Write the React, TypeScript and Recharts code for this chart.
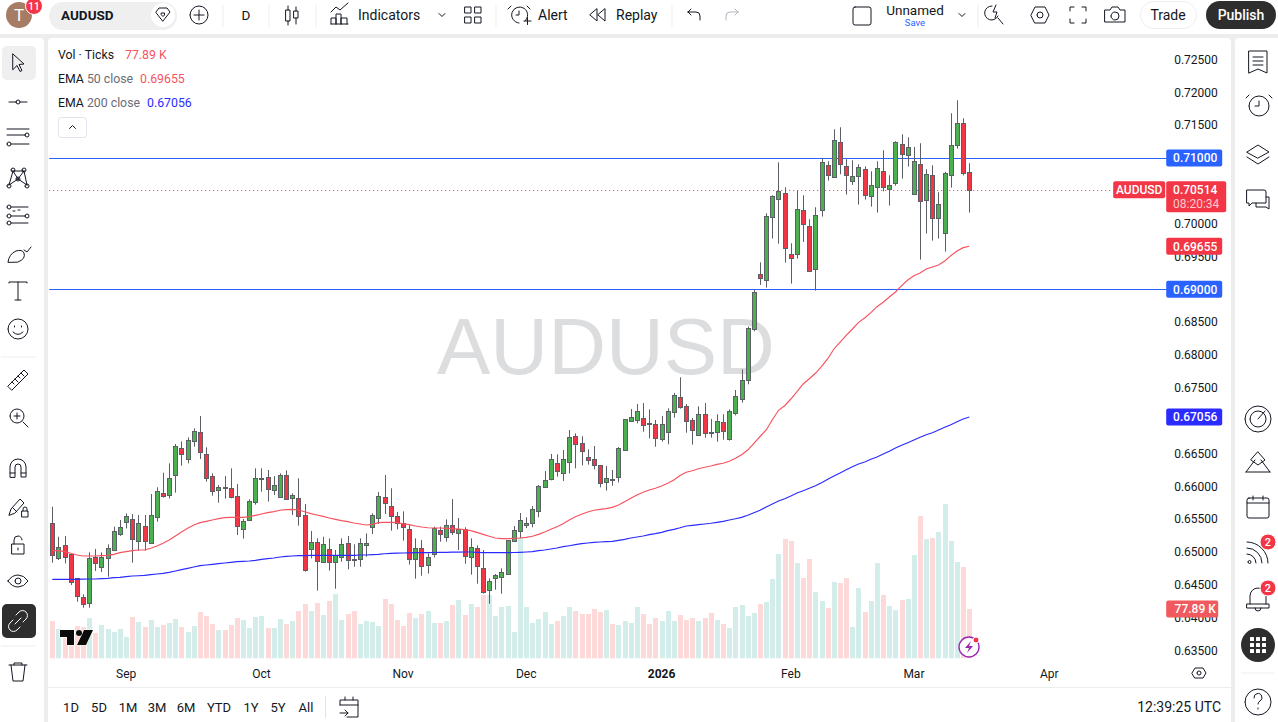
import { Bar, ComposedChart, Line, ReferenceLine, XAxis, YAxis } from 'recharts'

const opens = [
  0.65436, 0.64902, 0.65100, 0.64963, 0.64598, 0.64308, 0.64212, 0.64918, 0.64781, 0.64902,
  0.65024, 0.65263, 0.65451, 0.65496, 0.65161, 0.65390, 0.65131, 0.65527, 0.65892, 0.65862,
  0.66167, 0.66578, 0.66410, 0.66684, 0.66822, 0.66486, 0.66151, 0.65938, 0.65984, 0.65969,
  0.65847, 0.65344, 0.65481, 0.65755, 0.66116, 0.66136, 0.65938, 0.65832, 0.66167, 0.65816,
  0.65816, 0.65557, 0.65040, 0.65146, 0.64842, 0.65040, 0.64842, 0.64918, 0.65131, 0.64887,
  0.64887, 0.65100, 0.65375, 0.65512, 0.65832, 0.65694, 0.65542, 0.65436, 0.65344, 0.64887,
  0.65055, 0.64796, 0.64963, 0.65329, 0.65222, 0.65405, 0.65283, 0.65344, 0.64918, 0.65055,
  0.64750, 0.64415, 0.64598, 0.64613, 0.64659, 0.65161, 0.65309, 0.65405, 0.65430, 0.65618,
  0.65984, 0.66106, 0.66349, 0.66197, 0.66365, 0.66761, 0.66654, 0.66441, 0.66410, 0.66319,
  0.66060, 0.66106, 0.66136, 0.66547, 0.66989, 0.67004, 0.67035, 0.66959, 0.66943, 0.66715,
  0.66822, 0.67126, 0.67355, 0.67217, 0.67004, 0.66776, 0.67096, 0.66821, 0.66821, 0.66974,
  0.66715, 0.67111, 0.67324, 0.67613, 0.68390, 0.69228, 0.69137, 0.70097, 0.70371, 0.70462,
  0.69533, 0.69533, 0.70203, 0.69960, 0.69305, 0.70203, 0.70889, 0.70706, 0.71239, 0.70873,
  0.70640, 0.70721, 0.70828, 0.70416, 0.70554, 0.70797, 0.70523, 0.70614, 0.71208, 0.71041,
  0.70447, 0.70904, 0.70356, 0.70736, 0.70081, 0.69853, 0.70736, 0.71193, 0.71528, 0.70782,
]
const highs = [
  0.65689, 0.65232, 0.65243, 0.64968, 0.64598, 0.64354, 0.64994, 0.65045, 0.64994, 0.65116,
  0.65385, 0.65486, 0.65588, 0.65578, 0.65562, 0.65562, 0.65882, 0.65984, 0.66207, 0.66349,
  0.66644, 0.66684, 0.66745, 0.66882, 0.67070, 0.66593, 0.66197, 0.66019, 0.66156, 0.66273,
  0.66035, 0.65502, 0.65801, 0.66273, 0.66273, 0.66248, 0.66156, 0.66197, 0.66243, 0.65892,
  0.66121, 0.65730, 0.65319, 0.65207, 0.65232, 0.65207, 0.65029, 0.65207, 0.65243, 0.65116,
  0.65207, 0.65283, 0.65588, 0.65913, 0.66172, 0.65969, 0.65608, 0.65618, 0.65410, 0.65207,
  0.65182, 0.64979, 0.65385, 0.65385, 0.65496, 0.65806, 0.65517, 0.65375, 0.65207, 0.65100,
  0.65029, 0.64598, 0.64664, 0.64750, 0.65182, 0.65395, 0.65593, 0.65527, 0.65699, 0.66019,
  0.66233, 0.66492, 0.66486, 0.66552, 0.66857, 0.66806, 0.66761, 0.66563, 0.66613, 0.66319,
  0.66309, 0.66248, 0.66598, 0.67020, 0.67177, 0.67253, 0.67268, 0.67172, 0.67009, 0.67070,
  0.67187, 0.67421, 0.67659, 0.67253, 0.67040, 0.67217, 0.67268, 0.67025, 0.67096, 0.67096,
  0.67172, 0.67466, 0.67781, 0.68431, 0.68990, 0.69411, 0.70158, 0.70432, 0.70934, 0.70554,
  0.69701, 0.70508, 0.70432, 0.70066, 0.70249, 0.70995, 0.70950, 0.71437, 0.71467, 0.70980,
  0.70965, 0.70904, 0.70873, 0.70797, 0.70950, 0.71117, 0.70736, 0.71254, 0.71361, 0.71315,
  0.71168, 0.71224, 0.70828, 0.70889, 0.70477, 0.70787, 0.71681, 0.71879, 0.71604, 0.70919,
]
const lows = [
  0.64836, 0.64877, 0.64826, 0.64496, 0.64242, 0.64151, 0.64151, 0.64710, 0.64694, 0.64623,
  0.65019, 0.65243, 0.65359, 0.64836, 0.65019, 0.65019, 0.65126, 0.65461, 0.65826, 0.65816,
  0.65903, 0.66314, 0.66349, 0.66603, 0.66415, 0.66070, 0.65857, 0.65750, 0.65811, 0.65816,
  0.65258, 0.65202, 0.65476, 0.65720, 0.65918, 0.65766, 0.65867, 0.65832, 0.65796, 0.65562,
  0.65400, 0.64699, 0.64902, 0.64410, 0.64836, 0.64715, 0.64440, 0.64852, 0.64735, 0.64775,
  0.64775, 0.64928, 0.65273, 0.65425, 0.65578, 0.65324, 0.65344, 0.65172, 0.64806, 0.64593,
  0.64638, 0.64669, 0.64918, 0.65156, 0.65156, 0.65258, 0.65029, 0.64821, 0.64654, 0.64517,
  0.64364, 0.64212, 0.64425, 0.64364, 0.64659, 0.65156, 0.65212, 0.65364, 0.65375, 0.65527,
  0.65979, 0.66090, 0.66146, 0.66080, 0.66197, 0.66273, 0.66319, 0.66329, 0.66258, 0.65984,
  0.65933, 0.66009, 0.66060, 0.66542, 0.66984, 0.66959, 0.66832, 0.66730, 0.66603, 0.66679,
  0.66639, 0.67045, 0.67182, 0.66816, 0.66634, 0.66776, 0.66740, 0.66740, 0.66679, 0.66710,
  0.66695, 0.67080, 0.67273, 0.67553, 0.68360, 0.69066, 0.69025, 0.69772, 0.69695, 0.69406,
  0.69086, 0.69467, 0.69721, 0.69274, 0.68980, 0.70107, 0.70655, 0.70706, 0.70752, 0.70442,
  0.70589, 0.70290, 0.70366, 0.70259, 0.70168, 0.70493, 0.70274, 0.70579, 0.70686, 0.70868,
  0.70447, 0.69452, 0.69848, 0.69741, 0.69772, 0.69574, 0.70548, 0.71142, 0.70736, 0.70168,
]
const closes = [
  0.64943, 0.65070, 0.64918, 0.64537, 0.64324, 0.64202, 0.64902, 0.64826, 0.64928, 0.65055,
  0.65314, 0.65375, 0.65542, 0.65187, 0.65436, 0.65161, 0.65557, 0.65923, 0.65847, 0.66121,
  0.66608, 0.66486, 0.66700, 0.66837, 0.66517, 0.66121, 0.65923, 0.65984, 0.65979, 0.65832,
  0.65390, 0.65466, 0.65771, 0.66121, 0.66121, 0.65953, 0.66014, 0.66167, 0.65801, 0.65862,
  0.65542, 0.64720, 0.65146, 0.64857, 0.65116, 0.64842, 0.64948, 0.65116, 0.64872, 0.64882,
  0.65131, 0.65131, 0.65557, 0.65847, 0.65740, 0.65542, 0.65436, 0.65375, 0.64887, 0.65055,
  0.64781, 0.64918, 0.65359, 0.65268, 0.65405, 0.65298, 0.65344, 0.64933, 0.65070, 0.64781,
  0.64385, 0.64552, 0.64644, 0.64689, 0.65177, 0.65329, 0.65481, 0.65436, 0.65649, 0.65999,
  0.66090, 0.66410, 0.66228, 0.66410, 0.66745, 0.66639, 0.66532, 0.66395, 0.66319, 0.66045,
  0.66121, 0.66101, 0.66578, 0.67020, 0.67050, 0.67141, 0.66923, 0.66943, 0.66730, 0.66943,
  0.67141, 0.67385, 0.67202, 0.66984, 0.66847, 0.67096, 0.66806, 0.66816, 0.66989, 0.66837,
  0.67141, 0.67370, 0.67613, 0.68405, 0.68954, 0.69162, 0.70112, 0.70416, 0.70493, 0.69624,
  0.69472, 0.70218, 0.69990, 0.69274, 0.70127, 0.70934, 0.70736, 0.71269, 0.70904, 0.70736,
  0.70721, 0.70858, 0.70432, 0.70584, 0.70843, 0.70554, 0.70584, 0.71239, 0.71056, 0.71163,
  0.70950, 0.70340, 0.70752, 0.70081, 0.70295, 0.70767, 0.71193, 0.71528, 0.70767, 0.70514,
]
const volumes = [
  59.0, 46.4, 32.2, 44.8, 51.1, 49.5, 63.7, 40.1, 52.7, 46.4,
  41.7, 46.4, 33.8, 65.3, 57.4, 49.5, 60.6, 49.5, 52.7, 55.8,
  62.1, 49.5, 41.7, 51.1, 73.1, 66.9, 54.3, 44.8, 44.8, 52.7,
  63.7, 60.6, 48.0, 65.3, 66.9, 48.0, 48.0, 62.1, 54.3, 59.0,
  74.7, 85.7, 74.7, 87.3, 68.4, 90.4, 101.5, 60.6, 70.0, 74.7,
  54.3, 59.0, 57.4, 51.1, 93.6, 85.7, 60.6, 51.1, 71.6, 63.7,
  70.0, 74.7, 55.8, 55.8, 59.0, 84.2, 92.0, 68.4, 85.7, 81.0,
  99.9, 99.9, 66.9, 81.0, 82.6, 41.7, 191.1, 81.0, 55.8, 62.1,
  73.1, 54.3, 59.0, 66.9, 81.0, 74.7, 70.0, 70.0, 77.9, 73.1,
  76.3, 54.3, 52.7, 59.0, 55.8, 81.0, 70.0, 54.3, 63.7, 59.0,
  74.7, 59.0, 68.4, 60.6, 63.7, 59.0, 63.7, 71.6, 60.6, 54.3,
  48.0, 81.0, 84.2, 66.9, 71.6, 85.7, 88.9, 125.1, 164.4, 188.0,
  184.8, 150.2, 126.6, 156.5, 104.6, 90.4, 79.4, 120.3, 118.8, 126.6,
  49.5, 110.9, 73.1, 90.4, 150.2, 99.9, 82.6, 76.3, 92.0, 93.6,
  162.8, 224.2, 188.0, 189.5, 199.0, 243.0, 184.8, 151.8, 143.9, 77.89,
]
const ema50 = [
  0.65019, 0.65019, 0.65004, 0.64979, 0.64953, 0.64938, 0.64938, 0.64938, 0.64943, 0.64948,
  0.64963, 0.64989, 0.65004, 0.65019, 0.65029, 0.65029, 0.65055, 0.65090, 0.65131, 0.65182,
  0.65243, 0.65304, 0.65359, 0.65410, 0.65446, 0.65466, 0.65486, 0.65507, 0.65522, 0.65527,
  0.65527, 0.65527, 0.65537, 0.65557, 0.65578, 0.65598, 0.65613, 0.65634, 0.65644, 0.65649,
  0.65639, 0.65613, 0.65583, 0.65562, 0.65542, 0.65517, 0.65496, 0.65476, 0.65461, 0.65441,
  0.65425, 0.65410, 0.65420, 0.65446, 0.65451, 0.65451, 0.65446, 0.65430, 0.65415, 0.65395,
  0.65380, 0.65369, 0.65364, 0.65364, 0.65359, 0.65354, 0.65349, 0.65339, 0.65324, 0.65298,
  0.65268, 0.65238, 0.65212, 0.65202, 0.65202, 0.65207, 0.65212, 0.65222, 0.65238, 0.65268,
  0.65304, 0.65344, 0.65385, 0.65430, 0.65486, 0.65537, 0.65573, 0.65608, 0.65634, 0.65649,
  0.65659, 0.65679, 0.65715, 0.65766, 0.65816, 0.65867, 0.65908, 0.65943, 0.65969, 0.66004,
  0.66045, 0.66096, 0.66165, 0.66213, 0.66237, 0.66267, 0.66289, 0.66309, 0.66334, 0.66350,
  0.66380, 0.66426, 0.66481, 0.66552, 0.66654, 0.66758, 0.66857, 0.67014, 0.67157, 0.67227,
  0.67329, 0.67440, 0.67558, 0.67638, 0.67721, 0.67827, 0.67943, 0.68091, 0.68197, 0.68299,
  0.68395, 0.68497, 0.68563, 0.68644, 0.68735, 0.68802, 0.68883, 0.68959, 0.69055, 0.69142,
  0.69207, 0.69248, 0.69309, 0.69340, 0.69370, 0.69431, 0.69512, 0.69583, 0.69634, 0.69655,
]
const ema200 = [
  0.64583, 0.64583, 0.64583, 0.64583, 0.64583, 0.64585, 0.64588, 0.64588, 0.64593, 0.64598,
  0.64608, 0.64613, 0.64623, 0.64633, 0.64638, 0.64644, 0.64654, 0.64664, 0.64674, 0.64689,
  0.64710, 0.64730, 0.64750, 0.64770, 0.64791, 0.64801, 0.64811, 0.64821, 0.64831, 0.64842,
  0.64852, 0.64857, 0.64862, 0.64872, 0.64887, 0.64897, 0.64907, 0.64923, 0.64933, 0.64938,
  0.64943, 0.64943, 0.64948, 0.64948, 0.64948, 0.64948, 0.64948, 0.64948, 0.64948, 0.64948,
  0.64953, 0.64953, 0.64958, 0.64963, 0.64973, 0.64979, 0.64981, 0.64984, 0.64986, 0.64989,
  0.64989, 0.64989, 0.64991, 0.64994, 0.64994, 0.64996, 0.64996, 0.64999, 0.64999, 0.64994,
  0.64989, 0.64989, 0.64989, 0.64989, 0.64989, 0.64991, 0.64994, 0.64999, 0.65004, 0.65019,
  0.65029, 0.65045, 0.65060, 0.65080, 0.65095, 0.65111, 0.65126, 0.65136, 0.65146, 0.65151,
  0.65156, 0.65161, 0.65177, 0.65192, 0.65212, 0.65227, 0.65243, 0.65263, 0.65278, 0.65298,
  0.65324, 0.65344, 0.65368, 0.65395, 0.65405, 0.65415, 0.65425, 0.65436, 0.65451, 0.65466,
  0.65486, 0.65506, 0.65527, 0.65558, 0.65597, 0.65634, 0.65684, 0.65730, 0.65775, 0.65811,
  0.65852, 0.65897, 0.65932, 0.65969, 0.66008, 0.66054, 0.66106, 0.66156, 0.66202, 0.66252,
  0.66298, 0.66339, 0.66370, 0.66411, 0.66446, 0.66491, 0.66533, 0.66583, 0.66624, 0.66664,
  0.66705, 0.66746, 0.66785, 0.66816, 0.66857, 0.66898, 0.66938, 0.66983, 0.67024, 0.67056,
]
// 0.710, 0.705, 0.690 and 0.670 sit behind price tags, so they are not listed
const priceTicks = [
  0.725, 0.72, 0.715, 0.7, 0.695, 0.685, 0.68, 0.675, 0.665, 0.66,
  0.655, 0.65, 0.645, 0.64, 0.635,
]
const monthTicks = [12, 34, 57, 77, 99, 120, 140, 162]
const monthLabels = ['Sep', 'Oct', 'Nov', 'Dec', '2026', 'Feb', 'Mar', 'Apr']
const rangeButtons = ['1D', '5D', '1M', '3M', '6M', 'YTD', '1Y', '5Y', 'All']
const rangeButtonX = [71, 99, 128, 157, 186, 219, 251, 278, 306]

const BLANK_SLOTS = 31
const UP = '#4CAF50'
const DOWN = '#F23645'
const LINE_BLUE = '#2962FF'
const EMA50_COLOR = '#F7525F'
const EMA200_COLOR = '#2B2BFF'
const INK = '#131722'
const FONT = 'Roboto, sans-serif'

const rows: any[] = opens.map((open, i) => ({
  idx: i,
  open,
  high: highs[i],
  low: lows[i],
  close: closes[i],
  vol: volumes[i],
  ema50: ema50[i],
  ema200: ema200[i],
}))
for (let i = 0; i < BLANK_SLOTS; i++) rows.push({ idx: opens.length + i })

function Candle(props: any) {
  const { x, y, width, height, payload } = props
  if (payload.open == null || !height) return null
  const perUnit = height / (payload.high - payload.low)
  const top = y + (payload.high - Math.max(payload.open, payload.close)) * perUnit
  const bottom = y + (payload.high - Math.min(payload.open, payload.close)) * perUnit
  const cx = Math.floor(x + width / 2) + 0.5
  const bodyTop = Math.round(top) + 0.5
  const bodyH = Math.max(Math.round(bottom - top), 1)
  return (
    <g>
      <line x1={cx} x2={cx} y1={y} y2={y + height} stroke="#5D5F66" />
      <rect
        x={cx - 2}
        y={bodyTop}
        width={4}
        height={bodyH}
        fill={payload.close >= payload.open ? UP : DOWN}
        stroke="#5D5F66"
      />
    </g>
  )
}

function VolumeBar(props: any) {
  const { x, y, width, height, payload } = props
  if (payload.vol == null) return null
  const color = payload.close >= payload.open ? '#D3EDEA' : '#FDD9D9'
  return <rect x={Math.round(x)} y={y} width={width} height={height} fill={color} />
}

// horizontal levels snapped to a pixel row and run up to the price scale.
// on a right hand axis recharts hands the end points over right to left
const levelLine = (color: string, extend: boolean, dash?: string) => (props: any) => {
  const { x1, x2, y1 } = props
  const y = Math.round(y1) + 0.5
  return (
    <line
      x1={Math.min(x1, x2)}
      x2={Math.max(x1, x2) + (extend ? 3 : 0)}
      y1={y}
      y2={y}
      stroke={color}
      strokeWidth={1}
      strokeDasharray={dash}
    />
  )
}

function PriceTag(props: any) {
  const { viewBox, text, fill, w = 56 } = props
  const left = viewBox.x + viewBox.width + 3
  const y = viewBox.y
  return (
    <g>
      <rect x={left} y={y - 8.5} width={w} height={17} rx={2} fill={fill} />
      <text x={left + 29} y={y + 4.5} textAnchor="middle" fill="#fff" fontSize={12} fontWeight={500} fontFamily={FONT}>
        {text}
      </text>
    </g>
  )
}

function LastPriceTag(props: any) {
  const { viewBox } = props
  const left = viewBox.x + viewBox.width + 3
  const y = viewBox.y
  return (
    <g fontFamily={FONT} fontSize={12} fontWeight={500}>
      <rect x={left - 53} y={y - 8.5} width={52} height={17} rx={2} fill={DOWN} />
      <text x={left - 27} y={y + 4.5} textAnchor="middle" fill="#fff">AUDUSD</text>
      <rect x={left} y={y - 8.5} width={60} height={31} rx={2} fill={DOWN} />
      <text x={left + 29} y={y + 4.5} textAnchor="middle" fill="#fff">0.70514</text>
      <text x={left + 30} y={y + 18} textAnchor="middle" fill="#FBC9CE" fontWeight={400}>08:20:34</text>
    </g>
  )
}

function MonthTick(props: any) {
  const { x, y, index } = props
  const label = monthLabels[index]
  return (
    <text
      x={x}
      y={y}
      textAnchor="middle"
      fontSize={12}
      fontFamily={FONT}
      fontWeight={label === '2026' ? 700 : 400}
      fill={INK}
    >
      {label}
    </text>
  )
}

function Chart() {
  return (
    <ComposedChart
      width={1278}
      height={722}
      data={rows}
      margin={{ left: 49.2, right: 54.8, top: 38, bottom: 33.5 }}
      style={{ position: 'absolute', left: 0, top: 0 }}
    >
      <XAxis
        xAxisId="main"
        dataKey="idx"
        type="category"
        ticks={monthTicks}
        interval={0}
        height={30}
        tickLine={false}
        axisLine={false}
        tickMargin={13}
        tick={<MonthTick />}
      />
      <XAxis xAxisId="vol" dataKey="idx" type="category" hide />
      <YAxis
        yAxisId="price"
        orientation="right"
        type="number"
        domain={[0.63377, 0.72827]}
        ticks={priceTicks}
        interval={0}
        width={60}
        tickSize={0}
        tickMargin={11}
        axisLine={false}
        tickFormatter={(v: number) => v.toFixed(5)}
        tick={{ fontSize: 12, fill: INK, fontFamily: FONT }}
        allowDataOverflow
        zIndex={100}
      />
      <YAxis yAxisId="volume" hide type="number" domain={[0, 976]} allowDataOverflow />
      <Bar
        xAxisId="vol"
        yAxisId="volume"
        dataKey="vol"
        barSize={5}
        shape={VolumeBar}
        isAnimationActive={false}
      />
      {/* the levels stay under the candles, their tags over the price scale */}
      <ReferenceLine xAxisId="main" yAxisId="price" y={0.71} shape={levelLine(LINE_BLUE, true)} zIndex={250} />
      <ReferenceLine xAxisId="main" yAxisId="price" y={0.69} shape={levelLine(LINE_BLUE, true)} zIndex={250} />
      <ReferenceLine xAxisId="main" yAxisId="price" y={0.70514} shape={levelLine(DOWN, false, '1 3')} zIndex={250} />
      <ReferenceLine
        xAxisId="main"
        yAxisId="price"
        y={0.71}
        stroke="none"
        label={<PriceTag text="0.71000" fill={LINE_BLUE} />}
        zIndex={2000}
      />
      <ReferenceLine
        xAxisId="main"
        yAxisId="price"
        y={0.69}
        stroke="none"
        label={<PriceTag text="0.69000" fill={LINE_BLUE} />}
        zIndex={2000}
      />
      <ReferenceLine
        xAxisId="main"
        yAxisId="price"
        y={0.70514}
        stroke="none"
        label={<LastPriceTag />}
        zIndex={2000}
      />
      <ReferenceLine
        xAxisId="main"
        yAxisId="price"
        y={0.69655}
        stroke="none"
        label={<PriceTag text="0.69655" fill={DOWN} />}
        zIndex={2000}
      />
      <ReferenceLine
        xAxisId="main"
        yAxisId="price"
        y={0.67056}
        stroke="none"
        label={<PriceTag text="0.67056" fill={EMA200_COLOR} />}
        zIndex={2000}
      />
      <ReferenceLine
        xAxisId="vol"
        yAxisId="volume"
        y={77.89}
        stroke="none"
        label={<PriceTag text="77.89 K" fill="#F05A5F" w={52} />}
        zIndex={2000}
      />
      <Bar
        xAxisId="main"
        yAxisId="price"
        dataKey={(d: any) => (d.open == null ? null : [d.low, d.high])}
        barSize={5}
        shape={Candle}
        isAnimationActive={false}
      />
      <Line
        xAxisId="main"
        yAxisId="price"
        dataKey="ema50"
        type="linear"
        stroke={EMA50_COLOR}
        strokeWidth={1.15}
        dot={false}
        activeDot={false}
        isAnimationActive={false}
      />
      <Line
        xAxisId="main"
        yAxisId="price"
        dataKey="ema200"
        type="linear"
        stroke={EMA200_COLOR}
        strokeWidth={1.15}
        dot={false}
        activeDot={false}
        isAnimationActive={false}
      />
    </ComposedChart>
  )
}

// toolbar glyphs, all drawn around their own centre
function Glyph({ x, y, d, color = INK, w = 1 }: any) {
  return <path transform={`translate(${x} ${y})`} d={d} fill="none" stroke={color} strokeWidth={w} strokeLinecap="round" strokeLinejoin="round" />
}

const CIRCLE_9 = 'M-9 0a9 9 0 1 0 18 0a9 9 0 1 0 -18 0'
const CIRCLE_13 = 'M-13 0a13 13 0 1 0 26 0a13 13 0 1 0 -26 0'
const dot = (x: number, y: number) => `M${x - 2} ${y}a2 2 0 1 0 4 0a2 2 0 1 0 -4 0`

const TOP_GLYPHS: [number, number, string][] = [
  [199, 15, CIRCLE_9 + 'M-5 0H5M0 -5V5'],
  [292, 15, 'M-6 -5h4v11h-4zM-4 -9v4M-4 6v4M2 -4h4v7h-4zM4 -8v4M4 3v6'],
  [340, 15, 'M-9 9V3h5v6M-4 9V-1h5V9M1 9V3h6v6M-9 9H8M-9 -3l5 -5l4 3l8 -7'],
  [473, 15, 'M-8 -8h6v6h-6zM2 -8h6v6h-6zM-8 2h6v6h-6zM2 2h6v6h-6z'],
  [519, 15, 'M6 6a8 8 0 1 0 -6 2M0 -4v4h-3M-8 -9l-3 3M8 -9l3 3M5 6h7M8.5 2.5v7'],
  [598, 15, 'M-1 -6v12l-7 -6zM7 -6v12l-7 -6z'],
  [694, 15, 'M-6 -3h8a4 4 0 0 1 4 4v4M-6 -3l3 -3M-6 -3l3 3'],
  [862, 16, 'M-7 -9h14a2 2 0 0 1 2 2v14a2 2 0 0 1 -2 2h-14a2 2 0 0 1 -2 -2v-14a2 2 0 0 1 2 -2z'],
  [442, 15, 'M-3 -1.5l3 3l3 -3'],
  [962, 15, 'M-3 -1.5l3 3l3 -3'],
  [994, 15, 'M-2 -9a7 7 0 1 0 6 10M4 3l5 6M2 -10l-3 7h4l-2 6'],
  [1040, 15, 'M-9 0l4 -8h10l4 8l-4 8h-10zM-3 0a3 3 0 1 0 6 0a3 3 0 1 0 -6 0'],
  [1078, 15, 'M-8 -4v-4h4M4 -8h4v4M8 4v4h-4M-4 8h-4v-4'],
  [1115, 15, 'M-10 -5h5l2 -3h6l2 3h5v12h-20zM-4 1a4 4 0 1 0 8 0a4 4 0 1 0 -8 0'],
]
const LEFT_GLYPHS: [number, number, string][] = [
  [18, 63, 'M-5 -9L6 1l-5 0.5l3 6l-2 1l-3 -6l-4 4z'],
  [18, 102, 'M-9 0h7M2 0h7M-2 0a2 2 0 1 0 4 0a2 2 0 1 0 -4 0'],
  [18, 138, 'M-11 -9H11M-11 -3H7M-7 6H11M-11 0' + dot(9, -3) + dot(-9, 6)],
  [18, 177, 'M-9 8L-5 -6M-5 -6L0 2M0 2L6 -6M6 -6L9 8M-9 8L0 2L9 8M-5 -6H6' + dot(-9, 9) + dot(-5, -7) + dot(6, -7) + dot(9, 9) + dot(0, 2)],
  [18, 215, 'M-7 -8H10M-7 1H7M-7 8H10M-5 -4l2 0M0 -5l2 0' + dot(-9, -8) + dot(-9, 1) + dot(9, 1) + dot(-9, 8)],
  [18, 253, 'M-10 9q1 -8 8 -11q6 -2 8 2q2 6 -6 9zM6 -3l3 2l4 -5'],
  [18, 291, 'M-9 -8V-9H9V-8M0 -9V9M-3 9H3'],
  [18, 329, 'M-10 0a10 10 0 1 0 20 0a10 10 0 1 0 -20 0M-5 3q5 5 10 0M-3.5 -3v1M3.5 -3v1'],
  [18, 380, 'M-10 6L6 -10l4 4L-6 10zM-6 2l2 2M-3 -1l3 3M0 -4l2 2M3 -7l3 3'],
  [18, 417, 'M-8 -1a7 7 0 1 0 14 0a7 7 0 1 0 -14 0M5 5l5 5M-4 -1h6M-1 -4v6'],
  [18, 468, 'M-8 9V-1a8 8 0 0 1 16 0V9h-5V-1a3 3 0 0 0 -6 0V9zM-8 5h5M3 5h5'],
  [18, 507, 'M-9 8l2 -6L2 -8l4 4l-9 10zM-5 1l4 4M4 4h6v6h-6zM5 4V2a2 2 0 0 1 4 0v2'],
  [18, 545, 'M-6 -1h12v10h-12zM-4 -1v-4a4 4 0 0 1 8 0M0 3v2'],
  [18, 581, 'M-10 0q4 -6 10 -6q6 0 10 6q-4 6 -10 6q-6 0 -10 -6zM-3 0a3 3 0 1 0 6 0a3 3 0 1 0 -6 0'],
  [18, 672, 'M-9 -7H9M-4 -7v-2h8v2M-7 -7l2 16h10l2 -16'],
]
const RIGHT_GLYPHS: [number, number, string][] = [
  [1258, 62, 'M-9 -11H9V11L0 7L-9 11zM-5 -5H5M-5 -1H5M-5 3H5'],
  [1258, 106, 'M-9 0a10 10 0 1 0 20 0a10 10 0 1 0 -20 0M1 -5v5h-4M-9 -11l-3 3M11 -11l3 3'],
  [1258, 154, 'M-11 -2l11 -7l11 7l-11 6zM-11 3l11 7l11 -7'],
  [1258, 200, 'M-11 -10H6a2 2 0 0 1 2 2V3H-6L-9 6V3H-11zM8 -3H11V9L8 7H-2V3'],
  [1258, 419, CIRCLE_13 + 'M-8 0a8 8 0 1 0 16 0a8 8 0 1 0 -16 0M0 0L7 -8'],
  [1258, 463, 'M-12 9L-3 -3M12 9L3 -3M-12 9H12M0 -11L7 -3L0 2L-7 -3z'],
  [1258, 507, 'M-9 -9H9a2 2 0 0 1 2 2V9a2 2 0 0 1 -2 2H-9a2 2 0 0 1 -2 -2V-7a2 2 0 0 1 2 -2zM-11 -4H11M-5 -11v4M5 -11v4'],
  [1258, 552, 'M-11 -10a21 21 0 0 1 21 21M-11 -4a15 15 0 0 1 15 15M-11 2a9 9 0 0 1 9 9M-10 10a1.5 1.5 0 1 0 3 0a1.5 1.5 0 1 0 -3 0'],
  [1258, 598, 'M-8 6V-2a8 8 0 0 1 16 0V6M-11 6h22v4h-22zM-3 10a3 3 0 0 0 6 0'],
  [1258, 702, CIRCLE_13 + 'M-4 -4a4 4 0 1 1 6 3q-2 1 -2 3M0 6v1'],
  [1199, 673, 'M-7 0l3 -5h8l3 5l-3 5h-8zM-2 0a2 2 0 1 0 4 0a2 2 0 1 0 -4 0'],
  [349, 707, 'M-9 -2V-7H9V10H-2M-9 -2H9M-4 -10v3M4 -10v3M-9 6H-1M-4 3l3 3l-3 3'],
]

function Badge({ x, y, r, text, size }: any) {
  return (
    <g>
      <circle cx={x} cy={y} r={r} fill={DOWN} stroke="#fff" />
      <text x={x} y={y + size * 0.36} textAnchor="middle" fontSize={size} fontWeight={500} fill="#fff">{text}</text>
    </g>
  )
}

function Overlay() {
  return (
    <svg width={1278} height={722} style={{ position: 'absolute', left: 0, top: 0 }} fontFamily={FONT} fill={INK}>
      {/* header */}
      <circle cx={19} cy={15} r={13} fill="#A67C65" />
      <text x={19} y={21} textAnchor="middle" fontSize={17} fill="#fff">T</text>
      <Badge x={34} y={6} r={8.5} text="11" size={10} />
      <rect x={49} y={2} width={128} height={28} rx={14} fill="#EFEFEF" />
      <text x={61} y={20} fontSize={13.5} fontWeight={700}>AUDUSD</text>
      <circle cx={163} cy={15} r={12} fill="#fff" />
      <Glyph x={163} y={15} d="M-7 -3l3 -4h8l3 4l-7 9zM-1.5 -2h3v2l-1.5 1.5l-1.5 -1.5z" />
      <text x={246} y={20} textAnchor="middle" fontSize={13.5}>D</text>
      <text x={358} y={20} fontSize={14}>Indicators</text>
      <text x={538} y={20} fontSize={14}>Alert</text>
      <text x={616} y={20} fontSize={14}>Replay</text>
      <text x={915} y={15} textAnchor="middle" fontSize={13.5}>Unnamed</text>
      <text x={915} y={26} textAnchor="middle" fontSize={9.5} fill="#2962FF">Save</text>
      <Glyph x={732} y={15} color="#B2B5BE" d="M6 -3h-8a4 4 0 0 0 -4 4v4M6 -3l-3 -3M6 -3l-3 3" />
      {[223, 269, 316, 496, 672, 978].map(x => (
        <line key={x} x1={x} x2={x} y1={5} y2={27} stroke="#EDEDED" />
      ))}
      <rect x={1140.5} y={1.5} width={56} height={27} rx={13.5} fill="#fff" stroke="#EEEEEE" />
      <text x={1168} y={20} textAnchor="middle" fontSize={14}>Trade</text>
      <rect x={1206} y={1} width={70} height={28} rx={14} fill="#2E2E2E" />
      <text x={1241} y={20} textAnchor="middle" fontSize={14} fontWeight={500} fill="#fff">Publish</text>

      {/* left toolbar */}
      <rect x={2} y={46} width={34} height={34} rx={5} fill="#EFEFEF" />
      <rect x={2} y={604} width={34} height={34} rx={5} fill="#2E2E2E" />
      <Glyph x={18} y={621} color="#fff" d="M-2 -6l3 -3a4 4 0 0 1 7 7l-3 3M2 6l-3 3a4 4 0 0 1 -7 -7l3 -3M-3 3L3 -3" />
      <line x1={1} x2={36} y1={357} y2={357} stroke="#EDEDED" />
      <line x1={1} x2={36} y1={646} y2={646} stroke="#EDEDED" />
      <line x1={1241} x2={1274} y1={673} y2={673} stroke="#EDEDED" />
      {[...TOP_GLYPHS, ...LEFT_GLYPHS, ...RIGHT_GLYPHS].map(([x, y, d], i) => (
        <Glyph key={i} x={x} y={y} d={d} />
      ))}
      <circle cx={1258} cy={645} r={17} fill="#2E2E2E" />
      {[-6, 0, 6].flatMap(dy =>
        [-6, 0, 6].map(dx => (
          <rect key={`${dx}${dy}`} x={1258 + dx - 2} y={645 + dy - 2} width={4} height={4} rx={0.5} fill="#fff" />
        )),
      )}
      <Badge x={1268} y={542} r={8} text="2" size={11} />
      <Badge x={1268} y={588} r={8} text="2" size={11} />

      {/* legend */}
      <g fontSize={12.3}>
        <text x={58} y={59}>Vol · Ticks</text>
        <text x={125} y={59} fill="#F7525F">77.89 K</text>
        <text x={58} y={83}>EMA <tspan fill="#6A6D78">50 close</tspan></text>
        <text x={140} y={83} fill="#F7525F">0.69655</text>
        <text x={58} y={107}>EMA <tspan fill="#6A6D78">200 close</tspan></text>
        <text x={147} y={107} fill={EMA200_COLOR}>0.67056</text>
      </g>
      <rect x={58.5} y={117.5} width={28} height={20} rx={3} fill="#fff" stroke="#E0E3EB" />
      <Glyph x={72.5} y={127} d="M-3 1.5l3 -3l3 3" />

      {/* logo, bolt marker */}
      <path d="M60 630h14v15h-7v-8h-7zM84 630h9l-7 15h-9z" fill="#0B0B0B" stroke="#fff" strokeWidth={1} paintOrder="stroke" />
      <circle cx={79} cy={633} r={3} fill="#0B0B0B" stroke="#fff" paintOrder="stroke" />
      <circle cx={969} cy={647} r={10} fill="#fff" stroke="#9C27B0" strokeWidth={1.4} />
      <path d="M971 641l-6 7h4l-2 5l6 -7h-4z" fill="#9C27B0" />
      <circle cx={976} cy={640} r={3} fill={DOWN} stroke="#fff" />

      {/* bottom bar */}
      {rangeButtons.map((label, i) => (
        <text key={label} x={rangeButtonX[i]} y={712} textAnchor="middle" fontSize={13}>{label}</text>
      ))}
      <line x1={325.5} x2={325.5} y1={696} y2={718} stroke="#E0E3EB" />
      <text x={1221} y={712} textAnchor="end" fontSize={14}>12:39:25 UTC</text>
    </svg>
  )
}

export default function App() {
  return (
    <div style={{ position: 'absolute', left: 0, top: 0, width: 1278, height: 722, background: '#EDEDED', overflow: 'hidden' }}>
      <div style={{ position: 'absolute', left: 0, top: 0, width: 1278, height: 34, background: '#fff' }} />
      <div style={{ position: 'absolute', left: 0, top: 38, width: 44, height: 684, background: '#fff', borderTopRightRadius: 4 }} />
      <div style={{ position: 'absolute', left: 48, top: 38, width: 1183, height: 649, background: '#fff', borderRadius: '4px 4px 0 0' }} />
      <div style={{ position: 'absolute', left: 48, top: 688, width: 1183, height: 34, background: '#fff' }} />
      <div style={{ position: 'absolute', left: 1235, top: 38, width: 43, height: 684, background: '#fff', borderTopLeftRadius: 4 }} />
      <div
        style={{
          position: 'absolute',
          left: 437,
          top: 301,
          fontFamily: '"Liberation Sans", Arial, sans-serif',
          fontSize: 80,
          lineHeight: '92px',
          color: '#DCDDDF',
        }}
      >
        AUDUSD
      </div>
      <Chart />
      <Overlay />
    </div>
  )
}
